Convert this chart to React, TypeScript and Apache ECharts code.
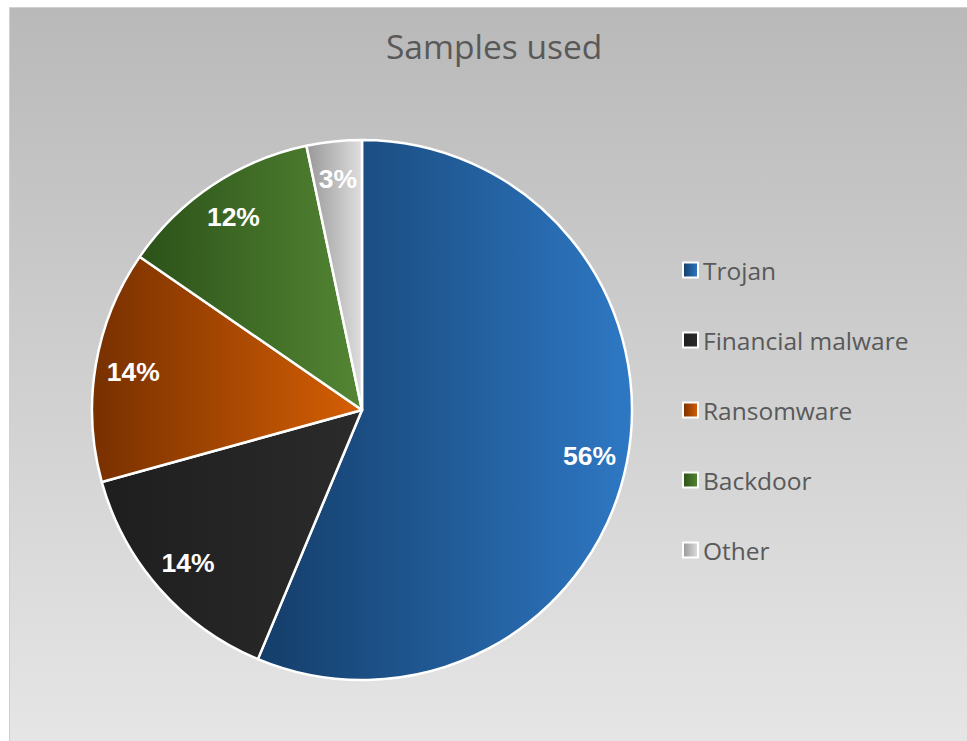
import React, { useEffect, useRef } from "react";
import * as echarts from "echarts";

const TITLE = "Samples used";
const categories = ["Trojan", "Financial malware", "Ransomware", "Backdoor", "Other"];
const shares = [56.3, 14.4, 13.9, 12.1, 3.3];
const gradientStops = [
  ["#143d69", "#2e78c4"],
  ["#1e1e1e", "#2b2b2b"],
  ["#773000", "#d65f04"],
  ["#2b5118", "#548634"],
  ["#989898", "#dedede"],
];

function grad(c: string[]) {
  return new echarts.graphic.LinearGradient(0, 0, 1, 0, [
    { offset: 0, color: c[0] },
    { offset: 1, color: c[1] },
  ]);
}

export default function App() {
  const ref = useRef<HTMLDivElement>(null);
  useEffect(() => {
    if (!ref.current) return;
    const chart = echarts.init(ref.current, null, { renderer: "svg" });
    const colored = categories.map((name, i) => ({
      name,
      value: shares[i],
      itemStyle: { color: grad(gradientStops[i]) },
    }));
    const labelled = categories.map((name, i) => ({ name, value: shares[i] }));
    chart.setOption({
      animation: false,
      backgroundColor: "#ffffff",
      title: {
        text: TITLE,
        left: 381,
        top: 19,
        textStyle: {
          fontFamily: "Open Sans",
          fontWeight: "normal",
          fontSize: 33.5,
          lineHeight: 44,
          color: "#595959",
        },
      },
      graphic: [
        {
          type: "rect",
          z: -10,
          zlevel: 0,
          silent: true,
          shape: { x: 9.5, y: 7.5, width: 980, height: 760 },
          style: {
            fill: new echarts.graphic.LinearGradient(0, 0, 0, 1, [
              { offset: 0, color: "#b9b9b9" },
              { offset: 1, color: "#e7e7e7" },
            ]),
            stroke: "#d0d0d0",
            lineWidth: 1,
          },
        },
      ],
      legend: {
        orient: "vertical",
        left: 677,
        top: 252,
        itemWidth: 15,
        itemHeight: 15,
        itemGap: 44,
        icon: "rect",
        data: categories,
        itemStyle: { borderColor: "#ffffff", borderWidth: 2 },
        textStyle: {
          fontFamily: "Open Sans",
          fontSize: 24.5,
          lineHeight: 26,
          color: "#595959",
          padding: [0, 0, 0, 0],
        },
        selectedMode: false,
      },
      series: [
        {
          type: "pie",
          center: [362, 410],
          radius: 270,
          startAngle: 90,
          clockwise: true,
          silent: true,
          itemStyle: { borderColor: "#ffffff", borderWidth: 2.5 },
          label: { show: false },
          labelLine: { show: false },
          data: colored,
        },
        {
          type: "pie",
          center: [362, 410],
          radius: [198, 260],
          startAngle: 90,
          clockwise: true,
          silent: true,
          legendHoverLink: false,
          itemStyle: { color: "rgba(0,0,0,0)", borderWidth: 0 },
          label: {
            show: true,
            position: "inside",
            color: "#ffffff",
            fontFamily: "Liberation Sans",
            fontWeight: "bold",
            fontSize: 26.5,
            formatter: (p: any) => Math.round(p.value) + "%",
          },
          labelLine: { show: false },
          data: labelled,
        },
      ],
    });
    return () => chart.dispose();
  }, []);
  return (
    <div
      ref={ref}
      style={{ position: "absolute", left: 0, top: 0, width: 967, height: 741 }}
    />
  );
}
